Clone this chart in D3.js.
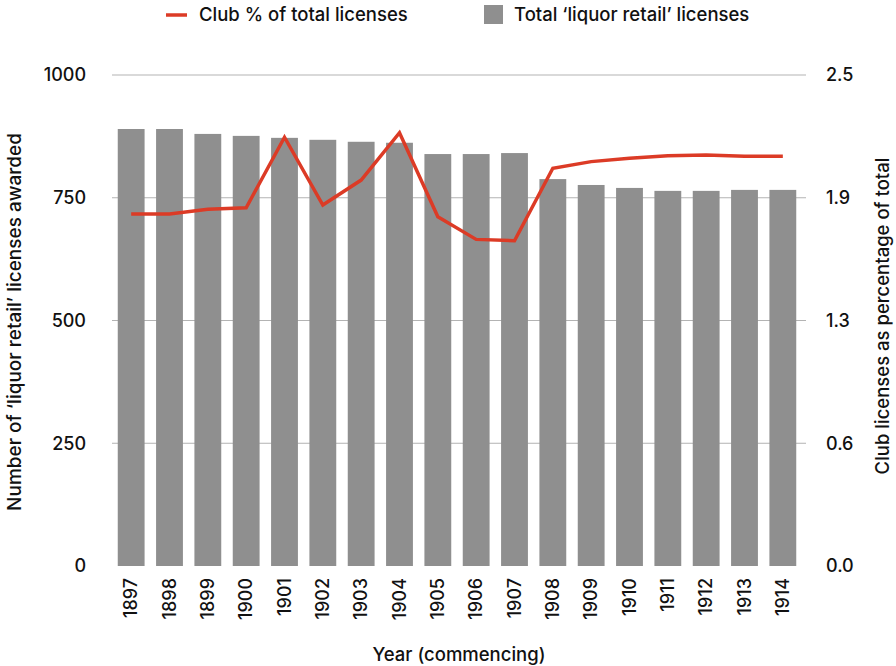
<!DOCTYPE html>
<html><head><meta charset="utf-8">
<script src="https://cdn.jsdelivr.net/npm/d3@7"></script>
<style>body{margin:0;background:#fff}svg{display:block}text{font-family:Inter,Lato,sans-serif;fill:#111;font-weight:500}</style>
</head><body><svg id="c" width="896" height="666"></svg>
<script>
const years = ["1897","1898","1899","1900","1901","1902","1903","1904","1905","1906","1907","1908","1909","1910","1911","1912","1913","1914"];
const totalLicenses = [890,890,880,876,872,868,864,862,839,839,841,788,776,770,764,764,766,766];
const clubPct = [1.792,1.792,1.816,1.824,2.183,1.838,1.965,2.206,1.778,1.663,1.656,2.025,2.059,2.076,2.089,2.093,2.086,2.086];
const leftTicks = [0,250,500,750,1000];
const rightTicks = [0,0.625,1.25,1.875,2.5];
const rightTickLabels = ["0.0","0.6","1.3","1.9","2.5"];
const legendLabels = ["Club % of total licenses","Total \u2018liquor retail\u2019 licenses"];

const FONT = "Inter";
const svg = d3.select("#c");
const L=112, R=806, T=75, B=566;
const x = d3.scaleBand().domain(years).range([L,802]).paddingInner(0.3).paddingOuter(0.15);
const yL = d3.scaleLinear().domain([0,1000]).range([B,T]);
const yR = d3.scaleLinear().domain([0,2.5]).range([B,T]);

svg.append("g").selectAll("line").data(leftTicks.slice(1)).join("line")
  .attr("x1",L).attr("x2",R).attr("y1",d=>yL(d)).attr("y2",d=>yL(d))
  .attr("stroke","#b3b3b3").attr("stroke-width",1);

svg.append("g").selectAll("rect").data(years).join("rect")
  .attr("x",d=>x(d)).attr("width",x.bandwidth())
  .attr("y",(d,i)=>yL(totalLicenses[i])).attr("height",(d,i)=>B-yL(totalLicenses[i]))
  .attr("fill","#8f8f8f");

const line = d3.line().x((d,i)=>x(years[i])+x.bandwidth()/2).y(d=>yR(d));
svg.append("path").datum(clubPct).attr("d",line).attr("fill","none")
  .attr("stroke","#dc3b26").attr("stroke-width",3.5).attr("stroke-linejoin","miter");

const axL = d3.axisLeft(yL).tickValues(leftTicks).tickFormat(d3.format("d")).tickSize(0).tickPadding(0);
const gL = svg.append("g").attr("transform",`translate(${L-26},0)`).call(axL);
gL.select(".domain").remove();
gL.selectAll("text").attr("font-size",18).attr("font-family",FONT).attr("fill","#111");

const axR = d3.axisRight(yR).tickValues(rightTicks).tickFormat((d,i)=>rightTickLabels[i]).tickSize(0).tickPadding(0);
const gR = svg.append("g").attr("transform",`translate(${R+20},0)`).call(axR);
gR.select(".domain").remove();
gR.selectAll("text").attr("font-size",18).attr("font-family",FONT).attr("fill","#111");

const axB = d3.axisBottom(x).tickSize(0).tickPadding(0);
const gB = svg.append("g").attr("transform",`translate(0,${B})`).call(axB);
gB.select(".domain").remove();
gB.selectAll("text").attr("font-size",18).attr("font-family",FONT).attr("fill","#111")
  .attr("transform","rotate(-90)").attr("text-anchor","end").attr("dy","0.35em").attr("x",-12).attr("y",0);

svg.append("text").attr("x",459).attr("y",661).attr("text-anchor","middle").attr("font-size",18.5).text("Year (commencing)");
svg.append("text").attr("transform","translate(21,322) rotate(-90)").attr("text-anchor","middle").attr("font-size",19).text("Number of \u2018liquor retail\u2019 licenses awarded");
svg.append("text").attr("transform","translate(876,316) rotate(-90)").attr("text-anchor","middle").attr("dy","0.7em").attr("font-size",18.5).text("Club licenses as percentage of total");

const lg = svg.append("g");
lg.append("line").attr("x1",166).attr("x2",187).attr("y1",15).attr("y2",15).attr("stroke","#dc3b26").attr("stroke-width",3.5);
lg.append("text").attr("x",199).attr("y",15).attr("dy","0.35em").attr("font-size",18.5).text(legendLabels[0]);
lg.append("rect").attr("x",484).attr("y",5).attr("width",19).attr("height",19).attr("fill","#8f8f8f");
lg.append("text").attr("x",514).attr("y",15).attr("dy","0.35em").attr("font-size",18.5).text(legendLabels[1]);
</script></body></html>
